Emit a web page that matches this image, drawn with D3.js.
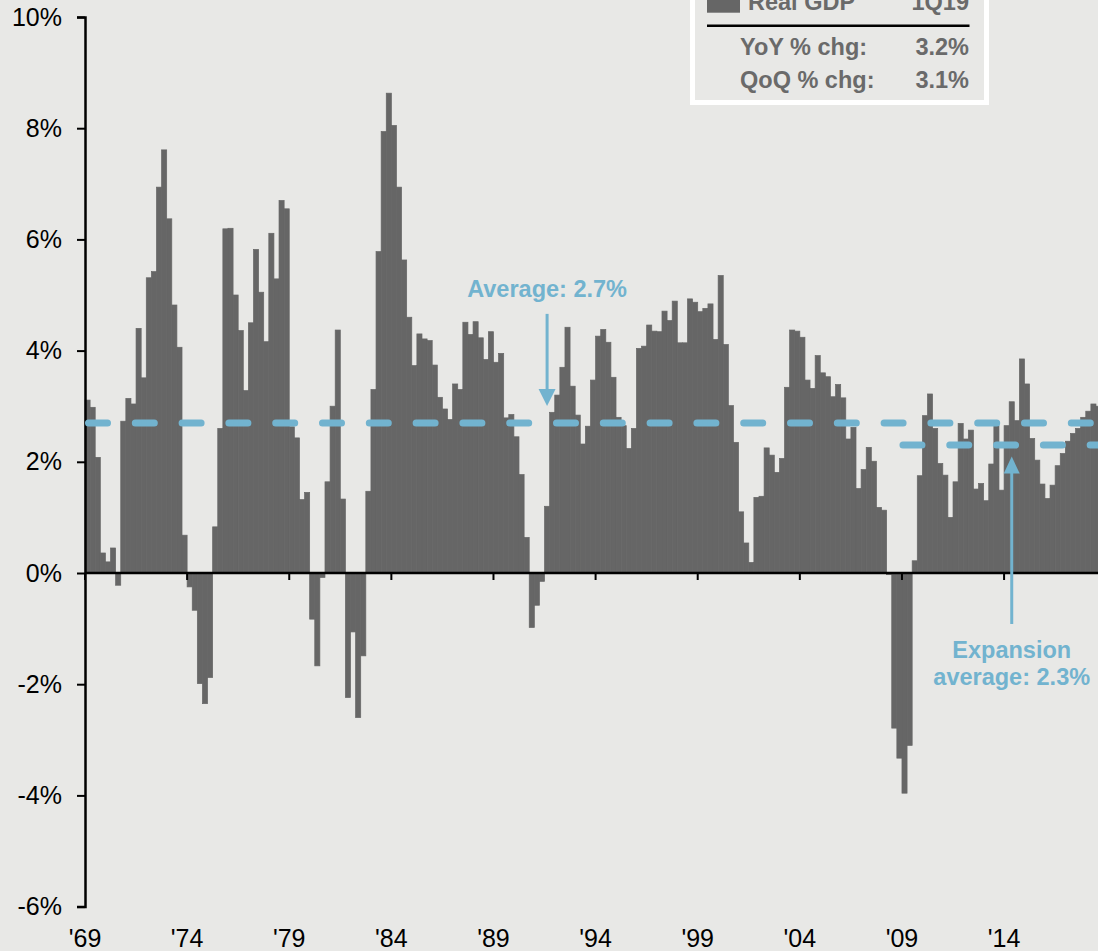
<!DOCTYPE html>
<html>
<head>
<meta charset="utf-8">
<script src="https://cdn.jsdelivr.net/npm/d3@7"></script>
<style>
  body { margin: 0; background: #e8e8e6; }
  svg { display: block; font-family: Arial, "Liberation Sans", sans-serif; }
</style>
</head>
<body>
<div class="g-chart-container"></div>
<script>
// real GDP, yoy % chg, quarterly from 2Q69 to 1Q19
var startYear = 1969, startQuarter = 2;
var yoy = [
  3.11, 2.98, 2.08, 0.36, 0.20, 0.45, -0.22, 2.73, 3.14, 3.04,
  4.40, 3.51, 5.31, 5.42, 6.94, 7.61, 6.37, 4.82, 4.06, 0.68,
  -0.25, -0.67, -1.99, -2.35, -1.88, 0.83, 2.60, 6.19, 6.20, 5.00,
  4.36, 3.28, 4.50, 5.82, 5.05, 4.16, 6.11, 5.29, 6.70, 6.55,
  2.63, 2.43, 1.32, 1.45, -0.83, -1.67, -0.08, 1.64, 3.00, 4.37,
  1.33, -2.24, -1.06, -2.60, -1.49, 1.47, 3.30, 5.78, 7.94, 8.63,
  8.05, 6.94, 5.63, 4.60, 3.73, 4.30, 4.21, 4.18, 3.74, 3.16,
  2.95, 2.76, 3.40, 3.30, 4.51, 4.29, 4.52, 4.23, 3.84, 4.34,
  3.79, 3.95, 2.79, 2.85, 2.45, 1.77, 0.64, -0.98, -0.58, -0.15,
  1.20, 2.89, 3.20, 3.70, 4.42, 3.36, 2.84, 2.32, 2.64, 3.47,
  4.26, 4.38, 4.15, 3.52, 2.80, 2.65, 2.24, 2.60, 4.04, 4.08,
  4.46, 4.35, 4.34, 4.71, 4.54, 4.89, 4.14, 4.14, 4.93, 4.87,
  4.70, 4.76, 4.84, 4.20, 5.35, 4.11, 3.01, 2.35, 1.10, 0.54,
  0.19, 1.36, 1.38, 2.25, 2.12, 1.81, 2.06, 3.34, 4.37, 4.35,
  4.24, 3.47, 3.32, 3.91, 3.60, 3.53, 3.17, 3.39, 3.15, 2.41,
  2.62, 1.52, 1.86, 2.26, 2.01, 1.18, 1.13, -0.03, -2.79, -3.33,
  -3.96, -3.10, 0.22, 1.75, 2.83, 3.22, 2.60, 1.97, 1.76, 1.00,
  1.64, 2.69, 2.41, 2.57, 1.51, 1.61, 1.30, 1.96, 2.65, 1.49,
  2.65, 3.08, 2.74, 3.85, 3.40, 2.42, 2.03, 1.60, 1.34, 1.58,
  1.93, 2.15, 2.37, 2.51, 2.60, 2.80, 2.91, 3.04, 3.00, 3.20
];
var yTicks = [-6, -4, -2, 0, 2, 4, 6, 8, 10];
var tickYears = [1969, 1974, 1979, 1984, 1989, 1994, 1999, 2004, 2009, 2014];
var tickLabels = ["'69", "'74", "'79", "'84", "'89", "'94", "'99", "'04", "'09", "'14"];

var average = 2.7, averageLabel = "Average: 2.7%", averageArrowAt = "4Q91";
var expansionAverage = 2.3, expansionFrom = "2Q09", expansionArrowAt = "3Q14";
var expansionLabel = ["Expansion", "average: 2.3%"];

var legendTitle = ["Real GDP", "1Q19"];
var legendRows = ["YoY % chg:", "QoQ % chg:"];
var legendValues = ["3.2%", "3.1%"];

var quarters = yoy.map(function(v, i){
  var q = startQuarter - 1 + i;
  return (q % 4 + 1) + "Q" + String(startYear + Math.floor(q / 4)).slice(2);
});
var data = quarters.map(function(q, i){ return {q: q, value: yoy[i]}; });

var w = 1098, h = 951;
var blue = "#72b3cf", barColor = "#666666", textGray = "#6a6a6a";

var svg = d3.select(".g-chart-container").html("")
  .append("svg")
  .attr("width", w)
  .attr("height", h);

var x = d3.scaleBand()
  .domain(quarters)
  .range([85, 85 + quarters.length * 5.106])
  .paddingInner(0);

var y = d3.scaleLinear()
  .domain([-6, 10])
  .range([906.6, 17]);

// bars; a same-colour stroke hides the seams between neighbours
svg.append("g").selectAll("rect")
  .data(data)
  .enter().append("rect")
    .attr("x", function(d){ return x(d.q); })
    .attr("width", x.bandwidth())
    .attr("y", function(d){ return y(Math.max(0, d.value)); })
    .attr("height", function(d){ return Math.abs(y(d.value) - y(0)); })
    .attr("fill", barColor)
    .attr("stroke", barColor)
    .attr("stroke-width", 0.7);

// y axis
var yAxis = svg.append("g")
  .attr("transform", "translate(85,0)")
  .call(d3.axisLeft(y).tickValues(yTicks).tickSize(8).tickPadding(15)
    .tickFormat(function(d){ return d + "%"; }));
yAxis.select(".domain").attr("stroke", "#000").attr("stroke-width", 2.5);
yAxis.selectAll(".tick line").attr("stroke", "#000").attr("stroke-width", 2);
yAxis.selectAll("text").attr("font-size", 25).attr("fill", "#000")
  .attr("font-family", "Arial, 'Liberation Sans', sans-serif");

// zero line + year ticks
var tickQ = tickYears.map(function(yr){ return "2Q" + String(yr).slice(2); });
svg.append("line")
  .attr("x1", 85).attr("x2", w)
  .attr("y1", y(0)).attr("y2", y(0))
  .attr("stroke", "#000").attr("stroke-width", 2.5);
svg.append("g").selectAll("line")
  .data(tickQ)
  .enter().append("line")
    .attr("x1", function(d){ return x(d); })
    .attr("x2", function(d){ return x(d); })
    .attr("y1", y(0)).attr("y2", y(0) + 7)
    .attr("stroke", "#000").attr("stroke-width", 2);
svg.append("g").selectAll("text")
  .data(tickQ)
  .enter().append("text")
    .attr("x", function(d){ return x(d); })
    .attr("y", 947)
    .attr("text-anchor", "middle")
    .attr("font-size", 25)
    .text(function(d, i){ return tickLabels[i]; });

// average lines
svg.append("line")
  .attr("x1", 88.5).attr("x2", w + 10)
  .attr("y1", y(average)).attr("y2", y(average))
  .attr("stroke", blue).attr("stroke-width", 7)
  .attr("stroke-linecap", "round")
  .attr("stroke-dasharray", "19,27.8");
svg.append("line")
  .attr("x1", x(expansionFrom) + 1).attr("x2", w + 10)
  .attr("y1", y(expansionAverage)).attr("y2", y(expansionAverage))
  .attr("stroke", blue).attr("stroke-width", 7)
  .attr("stroke-linecap", "round")
  .attr("stroke-dasharray", "19,27.8");

// average arrow
var ax = x(averageArrowAt) + x.bandwidth() / 2;
var aTip = y(average) - 17;
svg.append("line")
  .attr("x1", ax).attr("x2", ax)
  .attr("y1", y(average) - 109).attr("y2", aTip - 14)
  .attr("stroke", blue).attr("stroke-width", 3);
svg.append("path")
  .attr("d", "M" + (ax - 8.5) + "," + (aTip - 17) + "L" + (ax + 8.5) + "," + (aTip - 17) + "L" + ax + "," + aTip + "Z")
  .attr("fill", blue);
svg.append("text")
  .attr("x", ax).attr("y", y(average) - 126)
  .attr("text-anchor", "middle")
  .attr("font-size", 23.5).attr("font-weight", "bold")
  .attr("fill", blue)
  .text(averageLabel);

// expansion arrow
var ex = x(expansionArrowAt) + x.bandwidth() / 2;
var eTip = y(expansionAverage) + 11.5;
svg.append("line")
  .attr("x1", ex).attr("x2", ex)
  .attr("y1", y(0) + 51).attr("y2", eTip + 14)
  .attr("stroke", blue).attr("stroke-width", 3);
svg.append("path")
  .attr("d", "M" + (ex - 8) + "," + (eTip + 17) + "L" + (ex + 8) + "," + (eTip + 17) + "L" + ex + "," + eTip + "Z")
  .attr("fill", blue);
svg.append("text")
  .attr("text-anchor", "middle")
  .attr("font-size", 23.5).attr("font-weight", "bold")
  .attr("fill", blue)
  .selectAll("tspan")
  .data(expansionLabel)
  .enter().append("tspan")
    .attr("x", ex)
    .attr("y", function(d, i){ return y(0) + 85 + i * 27; })
    .text(function(d){ return d; });

// legend box (top is cropped off, as in the source)
var legend = svg.append("g");
legend.append("rect")
  .attr("x", 692.5).attr("y", -20)
  .attr("width", 294).attr("height", 122.5)
  .attr("fill", "none")
  .attr("stroke", "#fff").attr("stroke-width", 5);
legend.append("rect")
  .attr("x", 707).attr("y", -21)
  .attr("width", 33).attr("height", 33.7)
  .attr("fill", barColor);
legend.append("text")
  .attr("x", 748).attr("y", 10)
  .attr("font-size", 23.5).attr("font-weight", "bold").attr("fill", textGray)
  .text(legendTitle[0]);
legend.append("text")
  .attr("x", 969).attr("y", 10)
  .attr("text-anchor", "end")
  .attr("font-size", 23.5).attr("font-weight", "bold").attr("fill", textGray)
  .text(legendTitle[1]);
legend.append("line")
  .attr("x1", 707).attr("x2", 969.5)
  .attr("y1", 25.7).attr("y2", 25.7)
  .attr("stroke", "#000").attr("stroke-width", 2.5);
legendRows.forEach(function(r, i){
  legend.append("text")
    .attr("x", 740).attr("y", 55 + i * 32.5)
    .attr("font-size", 23.5).attr("font-weight", "bold").attr("fill", textGray)
    .text(r);
  legend.append("text")
    .attr("x", 969).attr("y", 55 + i * 32.5)
    .attr("text-anchor", "end")
    .attr("font-size", 23.5).attr("font-weight", "bold").attr("fill", textGray)
    .text(legendValues[i]);
});
</script>
</body>
</html>
